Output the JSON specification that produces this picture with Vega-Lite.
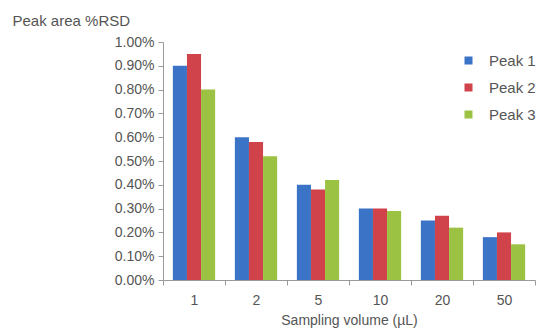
{
  "$schema": "https://vega.github.io/schema/vega-lite/v6.json",
  "width": 372,
  "height": 238,
  "autosize": {"type": "none"},
  "padding": {"left": 163, "top": 42, "right": 9, "bottom": 53},
  "background": "white",
  "config": {
    "font": "Liberation Sans",
    "view": {"stroke": null},
    "axis": {"domainColor": "#9a9a9a", "tickColor": "#9a9a9a", "labelColor": "#555555", "titleColor": "#555555", "labelFontSize": 14, "titleFontSize": 14, "titleFontWeight": "normal", "grid": false}
  },
  "data": {
    "values": [
      {"volume": "1", "peak": "Peak 1", "rsd": 0.0090},
      {"volume": "1", "peak": "Peak 2", "rsd": 0.0095},
      {"volume": "1", "peak": "Peak 3", "rsd": 0.0080},
      {"volume": "2", "peak": "Peak 1", "rsd": 0.0060},
      {"volume": "2", "peak": "Peak 2", "rsd": 0.0058},
      {"volume": "2", "peak": "Peak 3", "rsd": 0.0052},
      {"volume": "5", "peak": "Peak 1", "rsd": 0.0040},
      {"volume": "5", "peak": "Peak 2", "rsd": 0.0038},
      {"volume": "5", "peak": "Peak 3", "rsd": 0.0042},
      {"volume": "10", "peak": "Peak 1", "rsd": 0.0030},
      {"volume": "10", "peak": "Peak 2", "rsd": 0.0030},
      {"volume": "10", "peak": "Peak 3", "rsd": 0.0029},
      {"volume": "20", "peak": "Peak 1", "rsd": 0.0025},
      {"volume": "20", "peak": "Peak 2", "rsd": 0.0027},
      {"volume": "20", "peak": "Peak 3", "rsd": 0.0022},
      {"volume": "50", "peak": "Peak 1", "rsd": 0.0018},
      {"volume": "50", "peak": "Peak 2", "rsd": 0.0020},
      {"volume": "50", "peak": "Peak 3", "rsd": 0.0015}
    ]
  },
  "mark": {"type": "bar"},
  "encoding": {
    "x": {
      "field": "volume", "type": "nominal", "sort": null,
      "scale": {"paddingInner": 0, "paddingOuter": 0},
      "axis": {"title": "Sampling volume (µL)", "labelAngle": 0, "tickBand": "extent", "tickSize": 5, "labelPadding": 8, "titlePadding": 6}
    },
    "xOffset": {"field": "peak", "type": "nominal", "scale": {"paddingOuter": 0.7, "paddingInner": 0}},
    "y": {
      "field": "rsd", "type": "quantitative",
      "scale": {"domain": [0, 0.01], "nice": false},
      "axis": {"format": ".2%", "labelOverlap": false, "values": [0,0.001,0.002,0.003,0.004,0.005,0.006,0.007,0.008,0.009,0.01], "tickSize": 5, "labelPadding": 4,
        "title": "Peak area %RSD", "titleFontSize": 15, "titleAngle": 0, "titleAlign": "left", "titleBaseline": "alphabetic", "titleX": -151, "titleY": -17}
    },
    "color": {
      "field": "peak", "type": "nominal",
      "scale": {"domain": ["Peak 1", "Peak 2", "Peak 3"], "range": ["#3b73c6", "#d0434a", "#9cc244"]},
      "legend": {"title": null, "orient": "none", "legendX": 298, "legendY": 11, "symbolType": "square", "symbolSize": 64, "labelFontSize": 15, "labelColor": "#555555", "rowPadding": 11, "labelOffset": 13}
    }
  }
}
